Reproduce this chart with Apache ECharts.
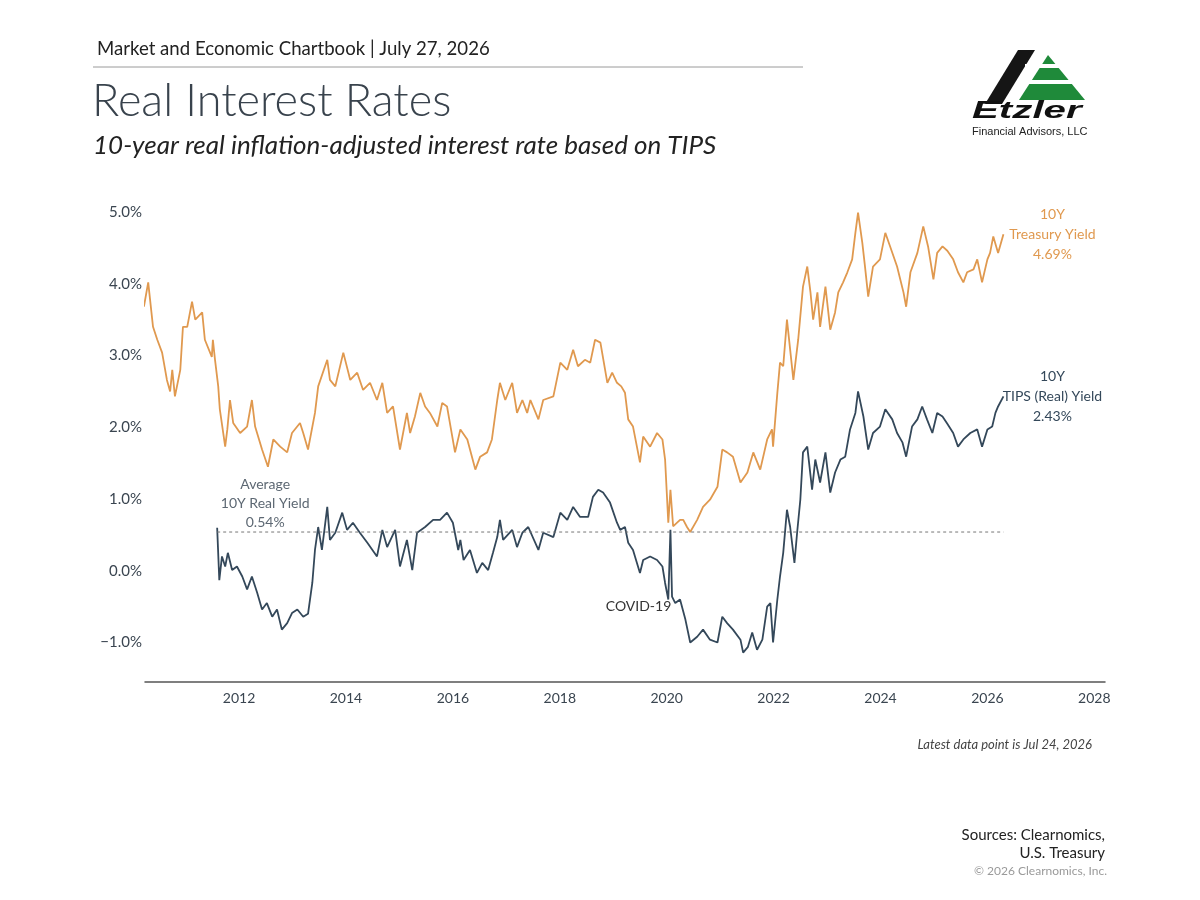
<!DOCTYPE html>
<html>
<head>
<meta charset="utf-8">
<title>Real Interest Rates</title>
<script src="https://cdn.jsdelivr.net/npm/echarts@6/dist/echarts.min.js"></script>
<style>
  html, body { margin: 0; padding: 0; background: #fff; }
  #chart { width: 1200px; height: 900px; }
</style>
</head>
<body>
<div id="chart"></div>
<script>
// values: [year, percent]
var treasury = [
  [2010.22,3.68],[2010.30,4.02],[2010.39,3.40],[2010.47,3.22],[2010.56,3.04],[2010.65,2.66],[2010.71,2.50],[2010.75,2.80],
  [2010.80,2.43],[2010.90,2.80],[2010.95,3.40],[2011.03,3.40],[2011.12,3.75],[2011.18,3.50],[2011.31,3.60],[2011.36,3.22],
  [2011.49,2.98],[2011.51,3.22],[2011.55,2.94],[2011.61,2.57],[2011.64,2.25],[2011.74,1.73],[2011.78,1.97],[2011.83,2.38],
  [2011.89,2.06],[2012.02,1.92],[2012.15,2.01],[2012.24,2.38],[2012.30,2.01],[2012.43,1.69],[2012.54,1.45],[2012.64,1.83],
  [2012.77,1.73],[2012.90,1.65],[2012.99,1.92],[2013.14,2.06],[2013.20,1.92],[2013.29,1.69],[2013.42,2.20],[2013.48,2.57],
  [2013.65,2.94],[2013.70,2.66],[2013.80,2.57],[2013.95,3.04],[2014.08,2.66],[2014.21,2.76],[2014.32,2.52],[2014.45,2.62],
  [2014.58,2.38],[2014.68,2.62],[2014.77,2.20],[2014.88,2.29],[2015.01,1.69],[2015.14,2.20],[2015.20,1.92],[2015.29,2.15],
  [2015.39,2.48],[2015.48,2.29],[2015.57,2.20],[2015.71,2.01],[2015.80,2.34],[2015.89,2.29],[2016.04,1.65],[2016.14,1.97],
  [2016.27,1.83],[2016.42,1.41],[2016.51,1.59],[2016.64,1.65],[2016.73,1.83],[2016.83,2.38],[2016.88,2.62],[2016.98,2.38],
  [2017.11,2.62],[2017.20,2.20],[2017.30,2.38],[2017.39,2.20],[2017.45,2.38],[2017.60,2.11],[2017.69,2.38],[2017.88,2.43],
  [2018.01,2.90],[2018.14,2.80],[2018.25,3.08],[2018.34,2.85],[2018.47,2.94],[2018.57,2.90],[2018.66,3.22],[2018.76,3.18],
  [2018.89,2.62],[2018.98,2.76],[2019.07,2.62],[2019.15,2.57],[2019.22,2.48],[2019.28,2.11],[2019.37,2.01],[2019.50,1.51],
  [2019.56,1.87],[2019.69,1.73],[2019.82,1.92],[2019.92,1.83],[2019.97,1.55],[2020.03,0.67],[2020.07,1.13],[2020.12,0.62],
  [2020.25,0.71],[2020.31,0.71],[2020.38,0.61],[2020.44,0.54],[2020.57,0.71],[2020.68,0.89],[2020.81,0.99],[2020.95,1.17],
  [2021.04,1.69],[2021.13,1.65],[2021.24,1.59],[2021.38,1.23],[2021.51,1.37],[2021.62,1.65],[2021.75,1.41],[2021.88,1.83],
  [2021.97,1.97],[2021.99,1.73],[2022.07,2.48],[2022.12,2.90],[2022.18,2.85],[2022.25,3.50],[2022.37,2.66],[2022.46,3.22],
  [2022.55,3.96],[2022.63,4.24],[2022.69,3.88],[2022.74,3.50],[2022.82,3.88],[2022.87,3.40],[2022.97,3.96],[2023.06,3.36],
  [2023.15,3.60],[2023.21,3.88],[2023.30,4.02],[2023.38,4.16],[2023.47,4.34],[2023.53,4.71],[2023.58,4.99],[2023.66,4.57],
  [2023.71,4.24],[2023.77,3.82],[2023.86,4.24],[2023.99,4.34],[2024.09,4.71],[2024.18,4.52],[2024.31,4.24],[2024.43,3.88],
  [2024.48,3.68],[2024.56,4.16],[2024.69,4.43],[2024.80,4.80],[2024.89,4.52],[2024.99,4.06],[2025.06,4.43],[2025.16,4.52],
  [2025.25,4.46],[2025.36,4.34],[2025.45,4.16],[2025.55,4.02],[2025.62,4.16],[2025.74,4.20],[2025.81,4.34],[2025.90,4.02],
  [2026.00,4.34],[2026.05,4.43],[2026.11,4.66],[2026.20,4.43],[2026.30,4.69]
];
var tips = [
  [2011.59,0.60],[2011.63,-0.13],[2011.68,0.20],[2011.74,0.06],[2011.79,0.25],[2011.87,0.01],[2011.96,0.06],[2012.06,-0.08],
  [2012.15,-0.26],[2012.24,-0.08],[2012.34,-0.31],[2012.43,-0.54],[2012.52,-0.45],[2012.62,-0.64],[2012.71,-0.54],[2012.80,-0.82],
  [2012.90,-0.73],[2012.99,-0.59],[2013.09,-0.54],[2013.20,-0.64],[2013.29,-0.60],[2013.37,-0.17],[2013.42,0.29],[2013.48,0.61],
  [2013.55,0.29],[2013.65,0.89],[2013.70,0.43],[2013.80,0.53],[2013.93,0.81],[2014.02,0.57],[2014.13,0.67],[2014.26,0.53],
  [2014.40,0.39],[2014.58,0.20],[2014.68,0.57],[2014.77,0.33],[2014.92,0.57],[2015.01,0.06],[2015.14,0.43],[2015.24,0.01],
  [2015.33,0.53],[2015.48,0.61],[2015.63,0.71],[2015.76,0.71],[2015.89,0.81],[2016.00,0.67],[2016.10,0.29],[2016.14,0.43],
  [2016.20,0.15],[2016.32,0.29],[2016.45,-0.03],[2016.55,0.11],[2016.66,0.01],[2016.75,0.25],[2016.83,0.47],[2016.88,0.71],
  [2016.94,0.43],[2017.11,0.57],[2017.20,0.33],[2017.30,0.53],[2017.41,0.61],[2017.60,0.29],[2017.69,0.53],[2017.88,0.47],
  [2018.01,0.81],[2018.14,0.71],[2018.25,0.89],[2018.38,0.75],[2018.53,0.75],[2018.62,1.03],[2018.72,1.13],[2018.81,1.09],
  [2018.94,0.95],[2019.07,0.67],[2019.13,0.57],[2019.22,0.61],[2019.28,0.39],[2019.37,0.29],[2019.50,-0.03],[2019.56,0.15],
  [2019.69,0.20],[2019.82,0.15],[2019.92,0.06],[2019.97,-0.17],[2020.03,-0.40],[2020.07,0.57],[2020.10,-0.36],[2020.16,-0.45],
  [2020.25,-0.40],[2020.35,-0.68],[2020.44,-1.00],[2020.57,-0.92],[2020.68,-0.82],[2020.81,-0.96],[2020.95,-1.00],[2021.04,-0.64],
  [2021.13,-0.73],[2021.24,-0.82],[2021.38,-0.96],[2021.43,-1.14],[2021.52,-1.06],[2021.60,-0.86],[2021.69,-1.10],[2021.79,-0.96],
  [2021.88,-0.50],[2021.94,-0.45],[2021.99,-1.00],[2022.07,-0.40],[2022.12,-0.08],[2022.18,0.25],[2022.25,0.85],[2022.31,0.61],
  [2022.39,0.11],[2022.44,0.53],[2022.50,0.99],[2022.55,1.65],[2022.63,1.73],[2022.72,1.13],[2022.78,1.55],[2022.87,1.23],
  [2022.97,1.65],[2023.06,1.09],[2023.15,1.37],[2023.25,1.55],[2023.34,1.59],[2023.43,1.97],[2023.53,2.20],[2023.58,2.50],
  [2023.68,2.15],[2023.77,1.69],[2023.86,1.92],[2023.99,2.01],[2024.09,2.25],[2024.22,2.11],[2024.31,1.92],[2024.41,1.79],
  [2024.48,1.59],[2024.59,2.01],[2024.69,2.11],[2024.78,2.29],[2024.87,2.11],[2024.97,1.92],[2025.06,2.20],[2025.16,2.15],
  [2025.25,2.05],[2025.36,1.92],[2025.45,1.73],[2025.55,1.83],[2025.68,1.92],[2025.81,1.97],[2025.90,1.73],[2026.00,1.97],
  [2026.09,2.01],[2026.15,2.20],[2026.20,2.29],[2026.30,2.43]
];
var avgRealYield = 0.54;
var covidPoint = [2020.03, -0.40];
var yearTicks = [2012, 2014, 2016, 2018, 2020, 2022, 2024, 2026, 2028];
var pctTicks = [-1, 0, 1, 2, 3, 4, 5];

var ORANGE = '#e0994f';
var NAVY = '#34485a';
var FONT = 'Lato, "Noto Sans", sans-serif';

var avgLine = [
  { value: [tips[0][0], avgRealYield],
    label: { show: true, position: 'top', align: 'center', offset: [48, 5],
      formatter: 'Average\n10Y Real Yield\n' + avgRealYield.toFixed(2) + '%',
      color: '#5d6873', fontSize: 14, lineHeight: 19, fontFamily: FONT } },
  { value: [tips[tips.length - 1][0], avgRealYield] }
];

var chart = echarts.init(document.getElementById('chart'));
var option = {
  backgroundColor: '#fff',
  animation: false,
  textStyle: { fontFamily: FONT },
  grid: { left: 145, right: 95, top: 212, bottom: 218 },
  xAxis: {
    type: 'value',
    min: 2010.24,
    max: 2028.2,
    axisLine: { show: true, onZero: false, lineStyle: { color: '#555', width: 1.5 } },
    axisTick: { show: false },
    splitLine: { show: false },
    axisLabel: {
      customValues: yearTicks,
      formatter: function (v) { return String(v); },
      color: '#3a4550', fontSize: 14, margin: 9, fontFamily: FONT
    }
  },
  yAxis: {
    type: 'value',
    min: -1.55,
    max: 5,
    axisLine: { show: false },
    axisTick: { show: false },
    splitLine: { show: false },
    axisLabel: {
      customValues: pctTicks,
      formatter: function (v) { return (v < 0 ? '\u2212' : '') + Math.abs(v).toFixed(1) + '%'; },
      color: '#3a4550', fontSize: 15, margin: 3, fontFamily: FONT
    }
  },
  series: [
    {
      name: '10Y Treasury Yield',
      type: 'line',
      data: treasury,
      showSymbol: false,
      lineStyle: { color: ORANGE, width: 1.8 },
      itemStyle: { color: ORANGE },
      endLabel: {
        show: true,
        formatter: function (p) { return '10Y\nTreasury Yield\n' + p.value[1].toFixed(2) + '%'; },
        color: ORANGE, fontSize: 14, lineHeight: 20, align: 'center', offset: [41, 0], fontFamily: FONT
      }
    },
    {
      name: '10Y TIPS (Real) Yield',
      type: 'line',
      data: tips,
      showSymbol: false,
      lineStyle: { color: NAVY, width: 1.8 },
      itemStyle: { color: NAVY },
      endLabel: {
        show: true,
        formatter: function (p) { return '10Y\nTIPS (Real) Yield\n' + p.value[1].toFixed(2) + '%'; },
        color: NAVY, fontSize: 14, lineHeight: 20, align: 'center', offset: [41, 0], fontFamily: FONT
      },
      markPoint: {
        symbol: 'circle',
        symbolSize: 0,
        data: [{ coord: covidPoint }],
        label: { show: true, position: 'left', distance: 1, offset: [4, 7], formatter: 'COVID-19',
          color: '#333', fontSize: 14, fontFamily: FONT }
      }
    },
    {
      name: 'Average',
      type: 'line',
      data: avgLine,
      showSymbol: true,
      symbol: 'circle',
      symbolSize: 0,
      silent: true,
      itemStyle: { color: '#777' },
      lineStyle: { color: '#777', width: 1, type: [3, 3] }
    }
  ],
  graphic: [
    { type: 'text', left: 97, top: 39,
      style: { text: 'Market and Economic Chartbook | July 27, 2026', fill: '#222', font: '18.6px ' + FONT } },
    { type: 'line', shape: { x1: 93, y1: 67, x2: 803, y2: 67 }, style: { stroke: '#9a9a9a', lineWidth: 1 } },
    { type: 'text', left: 92, top: 79,
      style: { text: 'Real Interest Rates', fill: '#39434d', font: '300 45px ' + FONT } },
    { type: 'text', left: 93, top: 133,
      style: { text: '10-year real inflation-adjusted interest rate based on TIPS', fill: '#222', font: 'italic 26px ' + FONT } },

    // logo
    { type: 'polygon', shape: { points: [[985, 104], [1002, 104], [1035, 50], [1018, 50]] }, style: { fill: '#151515' } },
    { type: 'polygon', shape: { points: [[1048, 55], [1085, 100], [1019, 100]] }, style: { fill: '#1f8a3a' } },
    { type: 'rect', shape: { x: 1025, y: 64, width: 70, height: 4 }, style: { fill: '#fff' } },
    { type: 'rect', shape: { x: 1018, y: 80, width: 75, height: 4 }, style: { fill: '#fff' } },
    { type: 'text', x: 972, y: 100, scaleX: 1.75,
      style: { text: 'Etzler', fill: '#111', font: 'italic 900 23px "Liberation Sans", Arial, sans-serif' } },
    { type: 'text', x: 972, y: 126,
      style: { text: 'Financial Advisors, LLC', fill: '#222', font: '11px "Liberation Sans", Arial, sans-serif' } },

    // footer
    { type: 'text', right: 108, top: 738,
      style: { text: 'Latest data point is Jul 24, 2026', fill: '#444', font: 'italic 13px ' + FONT } },
    { type: 'text', right: 95, top: 828,
      style: { text: 'Sources: Clearnomics,', fill: '#222', font: '15px ' + FONT } },
    { type: 'text', right: 95, top: 846,
      style: { text: 'U.S. Treasury', fill: '#222', font: '15px ' + FONT } },
    { type: 'text', right: 93, top: 865,
      style: { text: '\u00a9 2026 Clearnomics, Inc.', fill: '#9a9a9a', font: '12px ' + FONT } }
  ]
};
chart.setOption(option);
</script>
</body>
</html>
